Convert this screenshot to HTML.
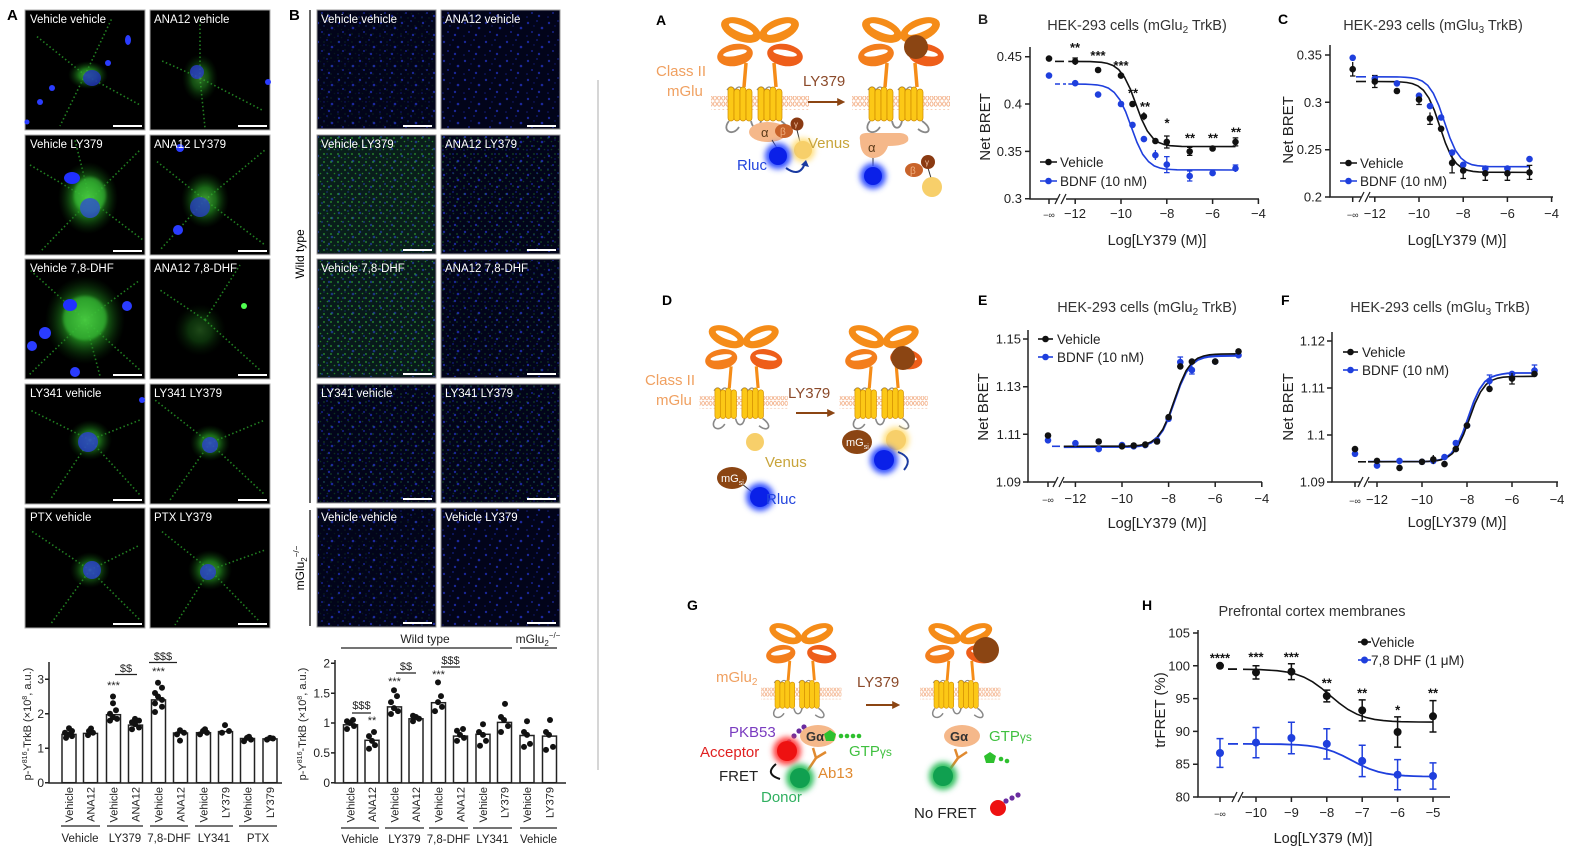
<!DOCTYPE html>
<html><head><meta charset="utf-8"><style>
html,body{margin:0;padding:0;background:#fff;}
svg{display:block;font-family:"Liberation Sans",Arial,sans-serif;}
</style></head><body>
<svg width="1580" height="856" viewBox="0 0 1580 856" xmlns="http://www.w3.org/2000/svg">
<defs>
 <radialGradient id="gc"><stop offset="0" stop-color="#55d045"/><stop offset="0.45" stop-color="#28a024" stop-opacity="0.85"/><stop offset="1" stop-color="#0a400a" stop-opacity="0"/></radialGradient>
 <pattern id="bd" width="21" height="19" patternUnits="userSpaceOnUse">
  <circle cx="3" cy="4" r="1.2" fill="#2232c0"/><circle cx="12" cy="2" r="0.9" fill="#1a28a8"/><circle cx="17" cy="9" r="1.3" fill="#2434c8"/><circle cx="7" cy="13" r="1" fill="#1e2cb0"/><circle cx="14" cy="16" r="1.2" fill="#2232c0"/><circle cx="2" cy="17" r="0.8" fill="#18249a"/><circle cx="9" cy="7" r="0.7" fill="#18249a"/>
 </pattern>
 <pattern id="gd" width="7" height="8" patternUnits="userSpaceOnUse">
  <circle cx="2" cy="2" r="0.9" fill="#38c838"/><circle cx="5.5" cy="5.5" r="0.8" fill="#2aa02a"/>
 </pattern>
 <pattern id="mem" width="4.2" height="14" patternUnits="userSpaceOnUse">
  <ellipse cx="2.1" cy="3" rx="1.5" ry="2.2" fill="none" stroke="#f0a070" stroke-width="0.8"/>
  <ellipse cx="2.1" cy="11" rx="1.5" ry="2.2" fill="none" stroke="#f0a070" stroke-width="0.8"/>
 </pattern>
 <filter id="bl" x="-50%" y="-50%" width="200%" height="200%"><feGaussianBlur stdDeviation="3"/></filter>
 <filter id="bl1" x="-50%" y="-50%" width="200%" height="200%"><feGaussianBlur stdDeviation="1.2"/></filter>
 <marker id="ah" viewBox="0 0 10 10" refX="1" refY="5" markerWidth="4" markerHeight="4" orient="auto"><path d="M0,0 L10,5 L0,10 z" fill="#8b4513"/></marker>
 <g id="rec">
  <rect x="-6" y="79" width="98" height="14" fill="url(#mem)"/>
  <ellipse cx="24" cy="13" rx="21" ry="11" transform="rotate(22 24 13)" fill="#f58c18"/>
  <ellipse cx="62" cy="13" rx="21" ry="11" transform="rotate(-22 62 13)" fill="#f58c18"/>
  <ellipse cx="24" cy="12" rx="13" ry="3.5" transform="rotate(22 24 12)" fill="#fff"/>
  <ellipse cx="62" cy="12" rx="13" ry="3.5" transform="rotate(-22 62 12)" fill="#fff"/>
  <ellipse cx="18" cy="38" rx="18" ry="11" transform="rotate(-10 18 38)" fill="#f37e1c"/>
  <ellipse cx="68" cy="38" rx="18" ry="11" transform="rotate(10 68 38)" fill="#ee5e1a"/>
  <ellipse cx="18" cy="36" rx="12" ry="3" transform="rotate(-10 18 36)" fill="#fff"/>
  <ellipse cx="68" cy="36" rx="12" ry="3" transform="rotate(10 68 36)" fill="#fff"/>
  <path d="M29,46 L27,70 M57,46 L59,70" stroke="#f58c18" stroke-width="3.5" fill="none"/>
  <path d="M10,73 q4,-6 8,0 q4,-6 8,0 M40,73 q4,-6 8,0 q4,-6 8,0" stroke="#888" fill="none" stroke-width="1.3"/>
  <g fill="#fcc816" stroke="#d08a00" stroke-width="0.7">
   <rect x="11" y="70" width="6" height="34" rx="3"/><rect x="17" y="72" width="6" height="32" rx="3"/><rect x="23" y="70" width="6" height="34" rx="3"/><rect x="29" y="72" width="6" height="32" rx="3"/>
   <rect x="41" y="70" width="6" height="34" rx="3"/><rect x="47" y="72" width="6" height="32" rx="3"/><rect x="53" y="70" width="6" height="34" rx="3"/><rect x="59" y="72" width="6" height="32" rx="3"/>
  </g>
  <path d="M12,104 C4,114 16,120 22,110 M34,104 C36,113 42,113 44,104 M64,104 C76,112 70,120 60,112" stroke="#888" stroke-width="1.8" fill="none"/>
 </g>
</defs>

<!-- ============ Panel A micrographs ============ -->
<text x="7" y="20" font-size="15" font-weight="bold">A</text>
<g stroke="#aaa" stroke-width="1" fill="#000">
 <rect x="25" y="10" width="120" height="120"/><rect x="150" y="10" width="120" height="120"/>
 <rect x="25" y="135" width="120" height="120"/><rect x="150" y="135" width="120" height="120"/>
 <rect x="25" y="259" width="120" height="120"/><rect x="150" y="259" width="120" height="120"/>
 <rect x="25" y="384" width="120" height="120"/><rect x="150" y="384" width="120" height="120"/>
 <rect x="25" y="508" width="120" height="120"/><rect x="150" y="508" width="120" height="120"/>
</g>
<g fill="none" stroke="#2aa02a" stroke-dasharray="1.5 2.5" stroke-width="1.6" opacity="0.8">
 <path d="M85,75 L35,35 M85,75 L140,105 M85,75 L60,126 M85,75 L112,18"/>
 <path d="M200,78 L200,20 M200,78 L205,128 M200,78 L160,60 M200,78 L262,110"/>
 <path d="M90,200 L30,165 M90,200 L140,150 M90,200 L40,252 M90,200 L143,240 M90,200 L75,140"/>
 <path d="M205,200 L155,160 M205,200 L265,150 M205,200 L265,245 M205,200 L160,250"/>
 <path d="M85,320 L30,270 M85,320 L140,280 M85,320 L28,376 M85,320 L140,370 M85,320 L100,376"/>
 <path d="M205,320 L160,290 M205,320 L260,370 M205,320 L240,265"/>
 <path d="M90,440 L30,410 M90,440 L140,420 M90,440 L50,500 M90,440 L140,495"/>
 <path d="M210,443 L155,400 M210,443 L265,420 M210,443 L170,500 M210,443 L265,495"/>
 <path d="M90,570 L30,530 M90,570 L140,545 M90,570 L50,625 M90,570 L140,620"/>
 <path d="M210,570 L160,530 M210,570 L265,550 M210,570 L175,625 M210,570 L260,622"/>
</g>
<g>
 <ellipse cx="88" cy="75" rx="20" ry="14" fill="url(#gc)" opacity="0.85"/>
 <ellipse cx="92" cy="78" rx="9" ry="8" fill="#2233bb" opacity="0.8"/>
 <ellipse cx="128" cy="40" rx="3" ry="5" fill="#2a3cff"/><circle cx="108" cy="63" r="3" fill="#2a3cff"/><circle cx="52" cy="88" r="3" fill="#2a3cff"/><circle cx="40" cy="102" r="3" fill="#2a3cff"/><circle cx="27" cy="122" r="2.5" fill="#2a3cff"/>
 <ellipse cx="200" cy="78" rx="18" ry="24" fill="url(#gc)" opacity="0.55"/>
 <circle cx="197" cy="72" r="7" fill="#2a3ccc" opacity="0.8"/><circle cx="268" cy="82" r="3" fill="#2a3cff"/>
 <ellipse cx="88" cy="198" rx="30" ry="36" fill="url(#gc)" opacity="0.95"/>
 <ellipse cx="90" cy="195" rx="16" ry="18" fill="#3ec83e" opacity="0.5" filter="url(#bl1)"/>
 <circle cx="90" cy="208" r="10" fill="#3050d0" opacity="0.8"/><ellipse cx="72" cy="178" rx="8" ry="6" fill="#2030ff"/>
 <ellipse cx="205" cy="200" rx="24" ry="28" fill="url(#gc)" opacity="0.75"/>
 <circle cx="200" cy="207" r="10" fill="#2840c0" opacity="0.8"/><circle cx="178" cy="230" r="5" fill="#2a3cff"/><circle cx="180" cy="148" r="4" fill="#2a3cff"/>
 <ellipse cx="85" cy="320" rx="40" ry="44" fill="url(#gc)" opacity="0.95"/>
 <ellipse cx="85" cy="318" rx="22" ry="22" fill="#3ec83e" opacity="0.5" filter="url(#bl1)"/>
 <ellipse cx="70" cy="305" rx="7" ry="6" fill="#2030ff"/><circle cx="127" cy="306" r="5" fill="#2a3cff"/><circle cx="45" cy="333" r="6" fill="#2a3cff"/><circle cx="32" cy="346" r="5" fill="#2a3cff"/><circle cx="75" cy="372" r="5" fill="#2a3cff"/>
 <ellipse cx="200" cy="330" rx="26" ry="26" fill="url(#gc)" opacity="0.35"/><circle cx="244" cy="306" r="3" fill="#50ff50"/>
 <ellipse cx="90" cy="440" rx="22" ry="20" fill="url(#gc)" opacity="0.75"/>
 <circle cx="88" cy="442" r="10" fill="#2a40d0" opacity="0.8"/><circle cx="142" cy="400" r="3" fill="#2a3cff"/>
 <ellipse cx="210" cy="443" rx="20" ry="18" fill="url(#gc)" opacity="0.75"/><circle cx="210" cy="445" r="8" fill="#2a40d0" opacity="0.8"/>
 <ellipse cx="90" cy="570" rx="20" ry="18" fill="url(#gc)" opacity="0.65"/><circle cx="92" cy="570" r="9" fill="#2a40d0" opacity="0.8"/>
 <ellipse cx="210" cy="570" rx="22" ry="20" fill="url(#gc)" opacity="0.75"/><circle cx="208" cy="572" r="8" fill="#2a40d0" opacity="0.8"/>
</g>
<g stroke="#fff" stroke-width="2">
 <path d="M113,126 H142 M238,126 H267 M113,251 H142 M238,251 H267 M113,375 H142 M238,375 H267 M113,500 H142 M238,500 H267 M113,624 H142 M238,624 H267"/>
</g>
<g fill="#fff" font-size="11.5">
 <text x="30" y="23">Vehicle vehicle</text><text x="154" y="23">ANA12 vehicle</text>
 <text x="30" y="148">Vehicle LY379</text><text x="154" y="148">ANA12 LY379</text>
 <text x="30" y="272">Vehicle 7,8-DHF</text><text x="154" y="272">ANA12 7,8-DHF</text>
 <text x="30" y="397">LY341 vehicle</text><text x="154" y="397">LY341 LY379</text>
 <text x="30" y="521">PTX vehicle</text><text x="154" y="521">PTX LY379</text>
</g>

<!-- ============ Panel B micrographs ============ -->
<text x="289" y="20" font-size="15" font-weight="bold">B</text>
<path d="M310,10 V503 M310,510 V626" stroke="#333" stroke-width="1.5"/>
<text transform="translate(304,254) rotate(-90)" text-anchor="middle" font-size="12">Wild type</text>
<text transform="translate(304,568) rotate(-90)" text-anchor="middle" font-size="12">mGlu<tspan font-size="8" dy="3">2</tspan><tspan font-size="8" dy="-8">−/−</tspan></text>
<g stroke="#999" stroke-width="1" fill="#02041a">
 <rect x="317" y="10" width="119" height="119"/><rect x="441" y="10" width="119" height="119"/>
 <rect x="317" y="135" width="119" height="119"/><rect x="441" y="135" width="119" height="119"/>
 <rect x="317" y="259" width="119" height="119"/><rect x="441" y="259" width="119" height="119"/>
 <rect x="317" y="384" width="119" height="119"/><rect x="441" y="384" width="119" height="119"/>
 <rect x="317" y="508" width="119" height="119"/><rect x="441" y="508" width="119" height="119"/>
</g>
<g fill="url(#bd)" opacity="0.75">
 <rect x="318" y="11" width="117" height="117"/><rect x="442" y="11" width="117" height="117"/>
 <rect x="318" y="136" width="117" height="117"/><rect x="442" y="136" width="117" height="117"/>
 <rect x="318" y="260" width="117" height="117"/><rect x="442" y="260" width="117" height="117"/>
 <rect x="318" y="385" width="117" height="117"/><rect x="442" y="385" width="117" height="117"/>
 <rect x="318" y="509" width="117" height="117"/><rect x="442" y="509" width="117" height="117"/>
</g>
<g fill="url(#gd)">
 <rect x="318" y="136" width="117" height="117" opacity="0.85"/>
 <rect x="442" y="136" width="117" height="117" opacity="0.35"/>
 <rect x="318" y="260" width="117" height="117" opacity="0.85"/>
 <rect x="442" y="260" width="117" height="117" opacity="0.25"/>
 <rect x="318" y="385" width="117" height="117" opacity="0.3"/>
 <rect x="442" y="385" width="117" height="117" opacity="0.3"/>
 <rect x="318" y="11" width="117" height="117" opacity="0.12"/>
 <rect x="318" y="509" width="117" height="117" opacity="0.12"/>
</g>
<rect x="318" y="136" width="117" height="117" fill="#1f6a1f" opacity="0.25"/>
<rect x="318" y="260" width="117" height="117" fill="#1f6a1f" opacity="0.22"/>
<g stroke="#fff" stroke-width="2">
 <path d="M403,126 H432 M527,126 H556 M403,250 H432 M527,250 H556 M403,374 H432 M527,374 H556 M403,499 H432 M527,499 H556 M403,623 H432 M527,623 H556"/>
</g>
<g fill="#fff" font-size="11.5">
 <text x="321" y="23">Vehicle vehicle</text><text x="445" y="23">ANA12 vehicle</text>
 <text x="321" y="148">Vehicle LY379</text><text x="445" y="148">ANA12 LY379</text>
 <text x="321" y="272">Vehicle 7,8-DHF</text><text x="445" y="272">ANA12 7,8-DHF</text>
 <text x="321" y="397">LY341 vehicle</text><text x="445" y="397">LY341 LY379</text>
 <text x="321" y="521">Vehicle vehicle</text><text x="445" y="521">Vehicle LY379</text>
</g>

<!-- ============ Bar chart A ============ -->
<g stroke="#222" stroke-width="1.5" fill="none">
 <path d="M49,662 V783 H282"/>
 <path d="M45,782.7 H49 M45,748.2 H49 M45,713.7 H49 M45,679.2 H49"/>
</g>
<g font-size="12" text-anchor="end" fill="#222">
 <text x="44" y="787">0</text><text x="44" y="752.5">1</text><text x="44" y="718">2</text><text x="44" y="683.5">3</text>
</g>
<text transform="translate(31,724) rotate(-90)" text-anchor="middle" font-size="11" fill="#222">p-Y<tspan font-size="7" dy="-4">816</tspan><tspan dy="4">-TrkB (×10</tspan><tspan font-size="7" dy="-4">8</tspan><tspan dy="4">, a.u.)</tspan></text>
<g fill="#fff" stroke="#222" stroke-width="1.5">
 <rect x="62" y="734.4" width="14" height="48.3"/><rect x="83.5" y="733.4" width="14" height="49.3"/>
 <rect x="106.5" y="714.7" width="14" height="68"/><rect x="128.5" y="725.1" width="14" height="57.6"/>
 <rect x="151.5" y="699.9" width="14" height="82.8"/><rect x="173.5" y="733" width="14" height="49.7"/>
 <rect x="196.5" y="732.7" width="14" height="50"/><rect x="218.5" y="731.6" width="14" height="51.1"/>
 <rect x="240.5" y="738.5" width="14" height="44.2"/><rect x="263" y="738.9" width="14" height="43.8"/>
</g>
<g fill="#111">
 <circle cx="66" cy="737.9" r="3"/><circle cx="72" cy="736.1" r="3"/><circle cx="69" cy="734.4" r="3"/><circle cx="65" cy="732.7" r="3"/><circle cx="72" cy="731" r="3"/><circle cx="69" cy="728.2" r="3"/>
 <circle cx="88" cy="735.1" r="3"/><circle cx="93" cy="732.7" r="3"/><circle cx="89" cy="731" r="3"/><circle cx="91" cy="728.5" r="3"/>
 <circle cx="110" cy="720.6" r="3"/><circle cx="117" cy="718.9" r="3"/><circle cx="113" cy="717.2" r="3"/><circle cx="110" cy="713.7" r="3"/><circle cx="116" cy="710.3" r="3"/><circle cx="113" cy="703.3" r="3"/><circle cx="113" cy="696.5" r="3"/>
 <circle cx="132" cy="729.2" r="3"/><circle cx="139" cy="727.5" r="3"/><circle cx="135" cy="724.1" r="3"/><circle cx="132" cy="722.3" r="3"/><circle cx="139" cy="720.6" r="3"/><circle cx="135" cy="718.9" r="3"/>
 <circle cx="155" cy="712" r="3"/><circle cx="162" cy="706.8" r="3"/><circle cx="155" cy="703.4" r="3"/><circle cx="162" cy="699.9" r="3"/><circle cx="158" cy="696.5" r="3"/><circle cx="155" cy="693" r="3"/><circle cx="162" cy="687.8" r="3"/><circle cx="158" cy="682.7" r="3"/>
 <circle cx="180" cy="740.6" r="3"/><circle cx="177" cy="734.4" r="3"/><circle cx="184" cy="732.7" r="3"/><circle cx="180" cy="730.3" r="3"/>
 <circle cx="200" cy="734.4" r="3"/><circle cx="207" cy="732.7" r="3"/><circle cx="203" cy="731" r="3"/><circle cx="205" cy="729.2" r="3"/>
 <circle cx="222" cy="732.7" r="3"/><circle cx="229" cy="731" r="3"/><circle cx="225" cy="725.1" r="3"/>
 <circle cx="244" cy="741.3" r="3"/><circle cx="251" cy="739.6" r="3"/><circle cx="247" cy="737.9" r="3"/><circle cx="249" cy="736.8" r="3"/>
 <circle cx="267" cy="739.6" r="3"/><circle cx="273" cy="738.5" r="3"/><circle cx="270" cy="737.9" r="3"/>
</g>
<g font-size="11" fill="#222" text-anchor="middle">
 <text x="113.5" y="689">***</text><text x="126" y="672">$$</text>
 <text x="158.5" y="675">***</text><text x="163" y="660">$$$</text>
</g>
<path d="M115,674.5 H137 M149,662.5 H177" stroke="#222" stroke-width="1.2"/>
<g font-size="11" fill="#222" text-anchor="end">
 <text transform="translate(73,787) rotate(-90)">Vehicle</text><text transform="translate(94.5,787) rotate(-90)">ANA12</text>
 <text transform="translate(117.5,787) rotate(-90)">Vehicle</text><text transform="translate(139.5,787) rotate(-90)">ANA12</text>
 <text transform="translate(162.5,787) rotate(-90)">Vehicle</text><text transform="translate(184.5,787) rotate(-90)">ANA12</text>
 <text transform="translate(207.5,787) rotate(-90)">Vehicle</text><text transform="translate(229.5,787) rotate(-90)">LY379</text>
 <text transform="translate(251.5,787) rotate(-90)">Vehicle</text><text transform="translate(274,787) rotate(-90)">LY379</text>
</g>
<path d="M61,826 H100 M107,826 H143 M150,826 H188 M195,826 H233 M239,826 H277" stroke="#222" stroke-width="1.2"/>
<g font-size="11.5" fill="#222" text-anchor="middle">
 <text x="80" y="842">Vehicle</text><text x="125" y="842">LY379</text><text x="169" y="842">7,8-DHF</text><text x="214" y="842">LY341</text><text x="258" y="842">PTX</text>
</g>

<!-- ============ Bar chart B ============ -->
<text x="425" y="643" font-size="12" text-anchor="middle" fill="#222">Wild type</text>
<text x="538" y="643" font-size="12" text-anchor="middle" fill="#222">mGlu<tspan font-size="8" dy="3">2</tspan><tspan font-size="8" dy="-8">−/−</tspan></text>
<path d="M341,648 H512 M520,648 H557" stroke="#222" stroke-width="1.2"/>
<g stroke="#222" stroke-width="1.5" fill="none">
 <path d="M335,660 V783 H566"/>
 <path d="M331,782.7 H335 M331,752.9 H335 M331,723 H335 M331,693.2 H335 M331,663.3 H335"/>
</g>
<g font-size="12" text-anchor="end" fill="#222">
 <text x="330" y="787">0</text><text x="330" y="757">0.5</text><text x="330" y="727">1</text><text x="330" y="697.5">1.5</text><text x="330" y="667.5">2</text>
</g>
<text transform="translate(306,724) rotate(-90)" text-anchor="middle" font-size="11" fill="#222">p-Y<tspan font-size="7" dy="-4">816</tspan><tspan dy="4">-TrkB (×10</tspan><tspan font-size="7" dy="-4">8</tspan><tspan dy="4">, a.u.)</tspan></text>
<g fill="#fff" stroke="#222" stroke-width="1.5">
 <rect x="343.5" y="724.8" width="14" height="57.9"/><rect x="365" y="740.3" width="14" height="42.4"/>
 <rect x="387.5" y="706.9" width="14" height="75.8"/><rect x="409" y="718.8" width="14" height="63.9"/>
 <rect x="431.5" y="702.7" width="14" height="80"/><rect x="453.5" y="736.1" width="14" height="46.6"/>
 <rect x="476" y="734.3" width="14" height="48.4"/><rect x="497.5" y="722.4" width="14" height="60.3"/>
 <rect x="520" y="735.5" width="14" height="47.2"/><rect x="542.5" y="736.1" width="14" height="46.6"/>
</g>
<g fill="#111">
 <circle cx="347" cy="729" r="3"/><circle cx="354" cy="726" r="3"/><circle cx="350" cy="723" r="3"/><circle cx="347" cy="721.2" r="3"/><circle cx="353" cy="720" r="3"/>
 <circle cx="369" cy="748.7" r="3"/><circle cx="375" cy="745.1" r="3"/><circle cx="372" cy="740.9" r="3"/><circle cx="369" cy="736.1" r="3"/><circle cx="374" cy="732" r="3"/>
 <circle cx="391" cy="714" r="3"/><circle cx="398" cy="711.1" r="3"/><circle cx="394" cy="708.1" r="3"/><circle cx="391" cy="702.1" r="3"/><circle cx="397" cy="696.1" r="3"/><circle cx="394" cy="690.2" r="3"/>
 <circle cx="413" cy="721.2" r="3"/><circle cx="419" cy="718.8" r="3"/><circle cx="416" cy="717" r="3"/><circle cx="413" cy="715.8" r="3"/>
 <circle cx="435" cy="711.1" r="3"/><circle cx="442" cy="706.9" r="3"/><circle cx="438" cy="702.1" r="3"/><circle cx="441" cy="696.1" r="3"/><circle cx="438" cy="682.4" r="3"/>
 <circle cx="457" cy="740.9" r="3"/><circle cx="464" cy="737.9" r="3"/><circle cx="460" cy="734.9" r="3"/><circle cx="457" cy="730.8" r="3"/><circle cx="463" cy="729" r="3"/>
 <circle cx="480" cy="745.7" r="3"/><circle cx="486" cy="740.9" r="3"/><circle cx="483" cy="734.9" r="3"/><circle cx="479" cy="732" r="3"/><circle cx="483" cy="724.2" r="3"/>
 <circle cx="501" cy="732" r="3"/><circle cx="508" cy="726" r="3"/><circle cx="504" cy="720" r="3"/><circle cx="501" cy="717" r="3"/><circle cx="505" cy="703.9" r="3"/>
 <circle cx="524" cy="746.9" r="3"/><circle cx="530" cy="743.9" r="3"/><circle cx="527" cy="734.9" r="3"/><circle cx="524" cy="732" r="3"/><circle cx="527" cy="721.2" r="3"/>
 <circle cx="546" cy="749.9" r="3"/><circle cx="553" cy="746.9" r="3"/><circle cx="549" cy="734.9" r="3"/><circle cx="546" cy="732" r="3"/><circle cx="550" cy="720" r="3"/>
</g>
<g font-size="11" fill="#222" text-anchor="middle">
 <text x="361.5" y="709">$$$</text><text x="372" y="724">**</text>
 <text x="394.5" y="685">***</text><text x="406" y="670">$$</text>
 <text x="438.5" y="678">***</text><text x="450.5" y="664">$$$</text>
</g>
<path d="M352,713 H371 M396,673 H416 M441,667 H460" stroke="#222" stroke-width="1.2"/>
<g font-size="11" fill="#222" text-anchor="end">
 <text transform="translate(354.5,787) rotate(-90)">Vehicle</text><text transform="translate(376,787) rotate(-90)">ANA12</text>
 <text transform="translate(398.5,787) rotate(-90)">Vehicle</text><text transform="translate(420,787) rotate(-90)">ANA12</text>
 <text transform="translate(442.5,787) rotate(-90)">Vehicle</text><text transform="translate(464.5,787) rotate(-90)">ANA12</text>
 <text transform="translate(487,787) rotate(-90)">Vehicle</text><text transform="translate(508.5,787) rotate(-90)">LY379</text>
 <text transform="translate(531,787) rotate(-90)">Vehicle</text><text transform="translate(553.5,787) rotate(-90)">LY379</text>
</g>
<path d="M341,828 H379 M385,828 H424 M429,828 H468 M473,828 H512 M520,828 H557" stroke="#222" stroke-width="1.2"/>
<g font-size="11.5" fill="#222" text-anchor="middle">
 <text x="360" y="843">Vehicle</text><text x="404.5" y="843">LY379</text><text x="448.5" y="843">7,8-DHF</text><text x="492.5" y="843">LY341</text><text x="538.5" y="843">Vehicle</text>
</g>

<!-- divider -->
<path d="M598,80 V770" stroke="#bbb" stroke-width="1.2"/>

<!-- ============ Diagram A ============ -->
<text x="656" y="25" font-size="14" font-weight="bold">A</text>
<use href="#rec" transform="translate(717,17)"/>
<use href="#rec" transform="translate(858,17)"/>
<circle cx="916" cy="47" r="12" fill="#8b4513"/>
<text x="656" y="76" font-size="15" fill="#f0a060">Class II</text>
<text x="667" y="96" font-size="15" fill="#f0a060">mGlu</text>
<text x="803" y="86" font-size="15" fill="#8b4a2a">LY379</text>
<path d="M808,102 H838" stroke="#8b4513" stroke-width="2" marker-end="url(#ah)"/>
<ellipse cx="768" cy="132" rx="19" ry="10" fill="#f5b88a"/>
<text x="761" y="137" font-size="13" fill="#5a3a1a">α</text>
<ellipse cx="784" cy="131" rx="9" ry="7" fill="#c8632a"/>
<text x="780" y="135" font-size="10" fill="#f0b080">β</text>
<circle cx="797" cy="124" r="6.5" fill="#8a3a12"/>
<text x="794" y="127" font-size="8" fill="#f0c0a0">γ</text>
<path d="M797,130 L800,142 M772,140 L777,148" stroke="#333" stroke-width="1"/>
<circle cx="803" cy="150" r="12" fill="#ffe080" filter="url(#bl)"/>
<circle cx="803" cy="150" r="9" fill="#f7cf6a"/>
<circle cx="778" cy="156" r="13" fill="#3050ff" filter="url(#bl)"/>
<circle cx="778" cy="156" r="9" fill="#0a20e8"/>
<text x="808" y="148" font-size="15" fill="#c8a43a">Venus</text>
<text x="737" y="170" font-size="15" fill="#2244dd">Rluc</text>
<path d="M786,168 Q800,178 805,163" stroke="#1a3aa0" stroke-width="2" fill="none"/>
<path d="M801,165 L806,160 L809,167 Z" fill="#1a3aa0"/>
<path d="M860,140 Q858,132 870,133 L900,133 Q910,134 908,141 Q904,146 888,146 Q884,158 872,158 Q860,156 860,140Z" fill="#f5b88a"/>
<text x="868" y="152" font-size="13" fill="#5a3a1a">α</text>
<path d="M873,158 L873,166 M928,168 L931,178" stroke="#333" stroke-width="1"/>
<circle cx="873" cy="176" r="13" fill="#3050ff" filter="url(#bl)"/>
<circle cx="873" cy="176" r="9" fill="#0a20e8"/>
<ellipse cx="914" cy="170" rx="9" ry="7" fill="#c8632a"/>
<text x="910" y="174" font-size="10" fill="#f0b080">β</text>
<circle cx="928" cy="162" r="7" fill="#8a3a12"/>
<text x="925" y="165" font-size="8" fill="#f0c0a0">γ</text>
<circle cx="932" cy="187" r="10" fill="#f7cf6a"/>

<!-- ============ Chart B (HEK mGlu2) ============ -->
<g fill="#222">
<text x="978" y="24" font-size="14" font-weight="bold">B</text>
<text x="1137" y="30" text-anchor="middle" font-size="14.5" fill="#333">HEK-293 cells (mGlu<tspan font-size="10" dy="3">2</tspan><tspan dy="-3"> TrkB)</tspan></text>
</g>
<g stroke="#222" stroke-width="1.5" fill="none">
 <path d="M1030,47 V199 H1259"/>
 <path d="M1025,56.7 H1030 M1025,104 H1030 M1025,151.4 H1030 M1025,198.7 H1030"/>
 <path d="M1049,199 V204 M1075.2,199 V204 M1121,199 V204 M1166.8,199 V204 M1212.6,199 V204 M1258.4,199 V204"/>
</g>
<rect x="1058" y="196" width="8" height="6" fill="#fff"/>
<path d="M1055,204 L1060,194 M1061,204 L1066,194" stroke="#222" stroke-width="1.3"/>
<g font-size="13" fill="#222" text-anchor="end">
 <text x="1022" y="61">0.45</text><text x="1022" y="108.5">0.4</text><text x="1022" y="156">0.35</text><text x="1022" y="203">0.3</text>
</g>
<g font-size="13" fill="#222" text-anchor="middle">
 <text x="1049" y="218" font-size="9">−∞</text><text x="1075" y="218">−12</text><text x="1121" y="218">−10</text><text x="1167" y="218">−8</text><text x="1212.6" y="218">−6</text><text x="1258.4" y="218">−4</text>
 <text x="1157" y="245" font-size="14.5">Log[LY379 (M)]</text>
</g>
<text transform="translate(990,127) rotate(-90)" text-anchor="middle" font-size="15" fill="#222">Net BRET</text>
<path d="M1055,61.4 H1064" stroke="#111" stroke-width="1.6"/>
<path d="M1055,84 H1066" stroke="#1f3fdd" stroke-width="1.6" stroke-dasharray="5 3"/>
<path d="M1068.3,84 L1085.5,84.2 L1091.2,84.5 L1096.9,84.9 L1102.7,86 L1108.4,88.1 L1114.1,92.3 L1119.8,99.7 L1125.6,111.6 L1131.3,127 L1137,142.4 L1142.7,154.3 L1148.6,161.7 L1154.2,165.9 L1159.9,168 L1165.6,169.1 L1171.4,169.5 L1177.1,169.8 L1235.5,170" stroke="#1f3fdd" stroke-width="1.6" fill="none"/>
<path d="M1068.3,61.4 L1090.1,61.6 L1095.8,61.9 L1101.5,62.3 L1107.3,63.4 L1113,65.5 L1118.7,69.6 L1124.4,77 L1130.2,88.8 L1135.9,104 L1141.6,119.3 L1147.3,131 L1153.2,138.4 L1158.8,142.5 L1164.5,144.6 L1170.2,145.7 L1176,146.1 L1181.7,146.4 L1235.5,146.6" stroke="#111" stroke-width="1.6" fill="none"/>
<g stroke="#1f3fdd" stroke-width="1.3">
 <path d="M1166.8,156.6 V172.6 M1164,156.6 H1169.6 M1164,172.6 H1169.6 M1189.7,171 V181 M1187,171 H1192.4 M1187,181 H1192.4 M1155.4,150 V160 M1235.5,165 V172 M1232.7,165 H1238.3 M1212.6,170 V176"/>
</g>
<g fill="#1f3fdd">
 <circle cx="1049" cy="75.6" r="3.3"/><circle cx="1075.2" cy="83.2" r="3.3"/><circle cx="1098.1" cy="94.6" r="3.3"/><circle cx="1121" cy="104" r="3.3"/><circle cx="1132.5" cy="124.9" r="3.3"/><circle cx="1143.9" cy="139.1" r="3.3"/><circle cx="1155.4" cy="155.2" r="3.3"/><circle cx="1166.8" cy="164.6" r="3.3"/><circle cx="1189.7" cy="176" r="3.3"/><circle cx="1212.6" cy="173.1" r="3.3"/><circle cx="1235.5" cy="168.4" r="3.3"/>
</g>
<g stroke="#111" stroke-width="1.3">
 <path d="M1075.2,58 V65 M1072.4,58 H1078 M1121,72.6 V78.6 M1166.8,136 V148 M1164,136 H1169.6 M1164,148 H1169.6 M1189.7,147.4 V155.4 M1187,147.4 H1192.4 M1187,155.4 H1192.4 M1235.5,137.9 V145.9 M1232.7,137.9 H1238.3 M1232.7,145.9 H1238.3 M1143.9,112.3 V120.3"/>
</g>
<g fill="#111">
 <circle cx="1049" cy="58.6" r="3.3"/><circle cx="1075.2" cy="61.4" r="3.3"/><circle cx="1098.1" cy="70" r="3.3"/><circle cx="1121" cy="75.6" r="3.3"/><circle cx="1132.5" cy="104" r="3.3"/><circle cx="1143.9" cy="116.3" r="3.3"/><circle cx="1155.4" cy="141" r="3.3"/><circle cx="1166.8" cy="141.9" r="3.3"/><circle cx="1189.7" cy="151.4" r="3.3"/><circle cx="1212.6" cy="148.5" r="3.3"/><circle cx="1235.5" cy="141.9" r="3.3"/>
</g>
<g font-size="13" font-weight="bold" fill="#111" text-anchor="middle">
 <text x="1075" y="52">**</text><text x="1098" y="60">***</text><text x="1121" y="70">***</text><text x="1133" y="97.5">**</text><text x="1145" y="111">**</text><text x="1167" y="127.5">*</text><text x="1190" y="142.5">**</text><text x="1213" y="142.5">**</text><text x="1236" y="136.5">**</text>
</g>
<path d="M1040,162 H1057" stroke="#111" stroke-width="1.6"/>
<path d="M1040,181 H1057" stroke="#1f3fdd" stroke-width="1.6"/>
<circle cx="1048.5" cy="162" r="3.3" fill="#111"/><circle cx="1048.5" cy="181" r="3.3" fill="#1f3fdd"/>
<text x="1060" y="167" font-size="13.5" fill="#222">Vehicle</text>
<text x="1060" y="186" font-size="13.5" fill="#222">BDNF (10 nM)</text>

<!-- ============ Chart C (HEK mGlu3) ============ -->
<text x="1278" y="24" font-size="14" font-weight="bold">C</text>
<text x="1433" y="30" text-anchor="middle" font-size="14.5" fill="#333">HEK-293 cells (mGlu<tspan font-size="10" dy="3">3</tspan><tspan dy="-3"> TrkB)</tspan></text>
<g stroke="#222" stroke-width="1.5" fill="none">
 <path d="M1330,45 V197 H1553"/>
 <path d="M1325,55 H1330 M1325,102.3 H1330 M1325,149.7 H1330 M1325,197 H1330"/>
 <path d="M1352.7,197 V202 M1374.8,197 V202 M1419,197 V202 M1463.2,197 V202 M1507.4,197 V202 M1551.6,197 V202"/>
</g>
<rect x="1361" y="194" width="8" height="6" fill="#fff"/>
<path d="M1359,202 L1364,192 M1365,202 L1370,192" stroke="#222" stroke-width="1.3"/>
<g font-size="13" fill="#222" text-anchor="end">
 <text x="1322" y="59.5">0.35</text><text x="1322" y="106.8">0.3</text><text x="1322" y="154.2">0.25</text><text x="1322" y="201.5">0.2</text>
</g>
<g font-size="13" fill="#222" text-anchor="middle">
 <text x="1352.7" y="218" font-size="9">−∞</text><text x="1374.8" y="218">−12</text><text x="1419" y="218">−10</text><text x="1463.2" y="218">−8</text><text x="1507.4" y="218">−6</text><text x="1551.6" y="218">−4</text>
 <text x="1457" y="245" font-size="14.5">Log[LY379 (M)]</text>
</g>
<text transform="translate(1293,130) rotate(-90)" text-anchor="middle" font-size="15" fill="#222">Net BRET</text>
<path d="M1356,81.5 H1366" stroke="#111" stroke-width="1.6"/>
<path d="M1356,76.8 H1366" stroke="#1f3fdd" stroke-width="1.6"/>
<path d="M1372.6,76.8 L1400.2,77 L1405.7,77.3 L1411.2,77.8 L1416.8,78.9 L1422.3,81.1 L1427.8,85.4 L1433.3,93.3 L1438.9,105.7 L1444.4,121.8 L1449.9,137.8 L1455.4,150.3 L1461,158.1 L1466.5,162.4 L1472,164.7 L1477.5,165.7 L1483.1,166.2 L1488.6,166.6 L1529.5,166.7" stroke="#1f3fdd" stroke-width="1.6" fill="none"/>
<path d="M1372.6,81.5 L1395.8,81.7 L1401.3,82 L1406.8,82.5 L1412.4,83.6 L1417.9,85.9 L1423.4,90.2 L1428.9,98.1 L1434.5,110.7 L1440,127 L1445.5,143.2 L1451,155.8 L1456.6,163.7 L1462.1,168 L1467.6,170.3 L1473.1,171.4 L1478.7,171.9 L1484.2,172.2 L1529.5,172.4" stroke="#111" stroke-width="1.6" fill="none"/>
<g stroke="#111" stroke-width="1.3">
 <path d="M1352.7,62 V76 M1350,76 H1355.4 M1374.8,75.5 V87.5 M1372,75.5 H1377.6 M1372,87.5 H1377.6 M1419,94.5 V104.5 M1416.2,104.5 H1421.8 M1430,112.4 V124.4 M1427.2,124.4 H1432.8 M1452.1,152.9 V172.9 M1449.3,172.9 H1454.9 M1463.2,162.5 V178.5 M1460.4,178.5 H1466 M1485.3,166.3 V180.3 M1482.5,180.3 H1488.1 M1507.4,166.3 V180.3 M1504.6,180.3 H1510.2 M1529.5,165.4 V179.4 M1526.7,165.4 H1532.3 M1526.7,179.4 H1532.3"/>
</g>
<g fill="#1f3fdd">
 <circle cx="1352.7" cy="57.8" r="3.3"/><circle cx="1374.8" cy="78.7" r="3.3"/><circle cx="1396.9" cy="83.4" r="3.3"/><circle cx="1419" cy="95.7" r="3.3"/><circle cx="1430" cy="106.1" r="3.3"/><circle cx="1441.1" cy="117.5" r="3.3"/><circle cx="1452.1" cy="152.5" r="3.3"/><circle cx="1463.2" cy="164.8" r="3.3"/><circle cx="1485.3" cy="168.6" r="3.3"/><circle cx="1507.4" cy="168.6" r="3.3"/><circle cx="1529.5" cy="159.1" r="3.3"/>
</g>
<g fill="#111">
 <circle cx="1352.7" cy="69.2" r="3.3"/><circle cx="1374.8" cy="81.5" r="3.3"/><circle cx="1396.9" cy="91" r="3.3"/><circle cx="1419" cy="99.5" r="3.3"/><circle cx="1430" cy="118.4" r="3.3"/><circle cx="1441.1" cy="128.8" r="3.3"/><circle cx="1452.1" cy="162.9" r="3.3"/><circle cx="1463.2" cy="170.5" r="3.3"/><circle cx="1485.3" cy="173.3" r="3.3"/><circle cx="1507.4" cy="173.3" r="3.3"/><circle cx="1529.5" cy="172.4" r="3.3"/>
</g>
<path d="M1340,163 H1357" stroke="#111" stroke-width="1.6"/>
<path d="M1340,181 H1357" stroke="#1f3fdd" stroke-width="1.6"/>
<circle cx="1348.5" cy="163" r="3.3" fill="#111"/><circle cx="1348.5" cy="181" r="3.3" fill="#1f3fdd"/>
<text x="1360" y="168" font-size="13.5" fill="#222">Vehicle</text>
<text x="1360" y="186" font-size="13.5" fill="#222">BDNF (10 nM)</text>

<!-- ============ Diagram D ============ -->
<text x="662" y="305" font-size="14" font-weight="bold">D</text>
<circle cx="755" cy="442" r="9" fill="#f7cf6a"/>
<use href="#rec" transform="translate(705,325) scale(0.9)"/>
<use href="#rec" transform="translate(845,325) scale(0.9)"/>
<circle cx="903" cy="358" r="12" fill="#8b4513"/>
<text x="645" y="385" font-size="15" fill="#f0a060">Class II</text>
<text x="656" y="405" font-size="15" fill="#f0a060">mGlu</text>
<text x="788" y="398" font-size="15" fill="#8b4a2a">LY379</text>
<path d="M796,413 H828" stroke="#8b4513" stroke-width="2" marker-end="url(#ah)"/>
<text x="765" y="467" font-size="15" fill="#c8a43a">Venus</text>
<path d="M742,484 L752,492" stroke="#333" stroke-width="1"/>
<ellipse cx="732" cy="478" rx="15" ry="11" fill="#8b4513"/>
<text x="721" y="482" font-size="11" fill="#fff">mG<tspan font-size="7" dy="3">si</tspan></text>
<circle cx="760" cy="497" r="14" fill="#3050ff" filter="url(#bl)"/>
<circle cx="760" cy="497" r="10" fill="#0a20e8"/>
<text x="766" y="504" font-size="15" fill="#2244dd">Rluc</text>
<circle cx="896" cy="440" r="13" fill="#ffe080" filter="url(#bl)"/>
<circle cx="896" cy="440" r="10" fill="#f7cf6a"/>
<ellipse cx="857" cy="442" rx="15" ry="12" fill="#8b4513"/>
<text x="846" y="446" font-size="11" fill="#fff">mG<tspan font-size="7" dy="3">si</tspan></text>
<circle cx="884" cy="460" r="14" fill="#3050ff" filter="url(#bl)"/>
<circle cx="884" cy="460" r="10" fill="#0a20e8"/>
<path d="M898,452 Q914,458 904,470" stroke="#1a3aa0" stroke-width="2" fill="none"/>

<!-- ============ Chart E ============ -->
<text x="978" y="305" font-size="14" font-weight="bold">E</text>
<text x="1147" y="312" text-anchor="middle" font-size="14.5" fill="#333">HEK-293 cells (mGlu<tspan font-size="10" dy="3">2</tspan><tspan dy="-3"> TrkB)</tspan></text>
<g stroke="#222" stroke-width="1.5" fill="none">
 <path d="M1028,330 V482 H1262"/>
 <path d="M1023,339 H1028 M1023,386.7 H1028 M1023,434.3 H1028 M1023,482 H1028"/>
 <path d="M1048,482 V487 M1075.4,482 V487 M1122,482 V487 M1168.6,482 V487 M1215.2,482 V487 M1261.8,482 V487"/>
</g>
<rect x="1055" y="479" width="8" height="6" fill="#fff"/>
<path d="M1053,487 L1058,477 M1059,487 L1064,477" stroke="#222" stroke-width="1.3"/>
<g font-size="13" fill="#222" text-anchor="end">
 <text x="1021" y="343.5">1.15</text><text x="1021" y="391">1.13</text><text x="1021" y="438.8">1.11</text><text x="1021" y="486.5">1.09</text>
</g>
<g font-size="13" fill="#222" text-anchor="middle">
 <text x="1048" y="503" font-size="9">−∞</text><text x="1075.4" y="503">−12</text><text x="1122" y="503">−10</text><text x="1168.6" y="503">−8</text><text x="1215.2" y="503">−6</text><text x="1261.8" y="503">−4</text>
 <text x="1157" y="528" font-size="14.5">Log[LY379 (M)]</text>
</g>
<text transform="translate(988,407) rotate(-90)" text-anchor="middle" font-size="15" fill="#222">Net BRET</text>
<path d="M1052,446.3 H1060" stroke="#1f3fdd" stroke-width="1.6"/>
<path d="M1063.8,447 L1127.8,446.8 L1133.7,446.5 L1139.5,446 L1145.3,444.9 L1151.1,442.6 L1157,438.2 L1162.8,430.3 L1168.6,417.6 L1174.4,401.2 L1180.3,384.8 L1186.1,372.2 L1191.9,364.3 L1197.7,359.9 L1203.6,357.7 L1209.4,356.6 L1215.2,356.1 L1221,355.9 L1238.5,355.6" stroke="#1f3fdd" stroke-width="2.2" fill="none"/>
<path d="M1063.8,446.3 L1127.8,446.1 L1133.7,445.8 L1139.5,445.3 L1145.3,444.2 L1151.1,441.9 L1157,437.4 L1162.8,429.4 L1168.6,416.6 L1174.4,400.1 L1180.3,383.5 L1186.1,370.7 L1191.9,362.7 L1197.7,358.2 L1203.6,356 L1209.4,354.8 L1215.2,354.3 L1221,354.1 L1238.5,353.8" stroke="#111" stroke-width="1.6" fill="none"/>
<g stroke="#1f3fdd" stroke-width="1.3"><path d="M1180.3,357 V367 M1177.5,357 H1183.1 M1191.9,366 V374 M1189.1,374 H1194.7"/></g>
<g fill="#1f3fdd">
 <circle cx="1048" cy="440.3" r="3.3"/><circle cx="1075.4" cy="443.2" r="3.3"/><circle cx="1098.7" cy="449.1" r="3.3"/><circle cx="1122" cy="445.1" r="3.3"/><circle cx="1133.7" cy="446.3" r="3.3"/><circle cx="1145.3" cy="445.1" r="3.3"/><circle cx="1157" cy="440.3" r="3.3"/><circle cx="1168.6" cy="418.8" r="3.3"/><circle cx="1180.3" cy="362.1" r="3.3"/><circle cx="1191.9" cy="370" r="3.3"/><circle cx="1215.2" cy="361.6" r="3.3"/><circle cx="1238.5" cy="355.2" r="3.3"/>
</g>
<g fill="#111">
 <circle cx="1048" cy="435.5" r="3.3"/><circle cx="1098.7" cy="441.5" r="3.3"/><circle cx="1122" cy="446.3" r="3.3"/><circle cx="1133.7" cy="445.5" r="3.3"/><circle cx="1145.3" cy="444.6" r="3.3"/><circle cx="1157" cy="441.5" r="3.3"/><circle cx="1168.6" cy="417.2" r="3.3"/><circle cx="1180.3" cy="366.4" r="3.3"/><circle cx="1191.9" cy="361.6" r="3.3"/><circle cx="1215.2" cy="361.6" r="3.3"/><circle cx="1238.5" cy="351.4" r="3.3"/>
</g>
<path d="M1038,339 H1053" stroke="#111" stroke-width="1.6"/>
<path d="M1038,357 H1053" stroke="#1f3fdd" stroke-width="1.6"/>
<circle cx="1045.5" cy="339" r="3.3" fill="#111"/><circle cx="1045.5" cy="357" r="3.3" fill="#1f3fdd"/>
<text x="1057" y="344" font-size="13.5" fill="#222">Vehicle</text>
<text x="1057" y="362" font-size="13.5" fill="#222">BDNF (10 nM)</text>

<!-- ============ Chart F ============ -->
<text x="1281" y="305" font-size="14" font-weight="bold">F</text>
<text x="1440" y="312" text-anchor="middle" font-size="14.5" fill="#333">HEK-293 cells (mGlu<tspan font-size="10" dy="3">3</tspan><tspan dy="-3"> TrkB)</tspan></text>
<g stroke="#222" stroke-width="1.5" fill="none">
 <path d="M1332,332 V482 H1558"/>
 <path d="M1327,341 H1332 M1327,388 H1332 M1327,435 H1332 M1327,482 H1332"/>
 <path d="M1355,482 V487 M1377,482 V487 M1422,482 V487 M1467,482 V487 M1512,482 V487 M1557,482 V487"/>
</g>
<rect x="1360" y="479" width="8" height="6" fill="#fff"/>
<path d="M1358,487 L1363,477 M1364,487 L1369,477" stroke="#222" stroke-width="1.3"/>
<g font-size="13" fill="#222" text-anchor="end">
 <text x="1325" y="345.5">1.12</text><text x="1325" y="392.5">1.11</text><text x="1325" y="439.5">1.1</text><text x="1325" y="486.5">1.09</text>
</g>
<g font-size="13" fill="#222" text-anchor="middle">
 <text x="1355" y="504" font-size="9">−∞</text><text x="1377" y="504">−12</text><text x="1422" y="504">−10</text><text x="1467" y="504">−8</text><text x="1512" y="504">−6</text><text x="1557" y="504">−4</text>
 <text x="1457" y="527" font-size="14.5">Log[LY379 (M)]</text>
</g>
<text transform="translate(1293,407) rotate(-90)" text-anchor="middle" font-size="15" fill="#222">Net BRET</text>
<path d="M1358,461.8 H1366" stroke="#111" stroke-width="1.6"/>
<path d="M1368,461.6 L1423.2,461.6 L1428.8,461.3 L1434.4,460.8 L1440,459.8 L1445.7,457.5 L1451.3,453.3 L1456.9,445.5 L1462.5,433.3 L1468.2,417.4 L1473.8,401.5 L1479.4,389.3 L1485,381.5 L1490.7,377.3 L1496.3,375.4 L1501.9,374.1 L1507.5,373.3 L1513.2,373 L1534.5,373" stroke="#1f3fdd" stroke-width="1.8" fill="none"/>
<path d="M1368,461.8 L1424.3,461.6 L1429.9,461.3 L1435.5,460.9 L1441.1,459.8 L1446.8,457.7 L1452.4,453.6 L1458,446.2 L1463.6,434.4 L1469.3,419.1 L1474.9,403.7 L1480.5,392 L1486.1,384.5 L1491.8,380.4 L1497.4,378.3 L1503,377.2 L1508.6,376.8 L1514.3,376.5 L1534.5,376.3" stroke="#111" stroke-width="1.6" fill="none"/>
<g stroke="#1f3fdd" stroke-width="1.3"><path d="M1489.5,375 V387 M1486.7,375 H1492.3 M1534.5,365 V376 M1531.7,365 H1537.3"/></g>
<g fill="#1f3fdd">
 <circle cx="1355" cy="453.8" r="3.3"/><circle cx="1377" cy="465.6" r="3.3"/><circle cx="1399.5" cy="460.9" r="3.3"/><circle cx="1422" cy="461.8" r="3.3"/><circle cx="1433.3" cy="460.9" r="3.3"/><circle cx="1444.5" cy="457.1" r="3.3"/><circle cx="1455.8" cy="443" r="3.3"/><circle cx="1467" cy="425.6" r="3.3"/><circle cx="1489.5" cy="380.9" r="3.3"/><circle cx="1512" cy="373.9" r="3.3"/><circle cx="1534.5" cy="370.6" r="3.3"/>
</g>
<g stroke="#111" stroke-width="1.3"><path d="M1433.3,455 V464 M1512,373 V384 M1509.2,384 H1514.8"/></g>
<g fill="#111">
 <circle cx="1355" cy="449.1" r="3.3"/><circle cx="1377" cy="460.9" r="3.3"/><circle cx="1399.5" cy="467.9" r="3.3"/><circle cx="1422" cy="461.8" r="3.3"/><circle cx="1433.3" cy="459.4" r="3.3"/><circle cx="1444.5" cy="464.1" r="3.3"/><circle cx="1455.8" cy="449.1" r="3.3"/><circle cx="1467" cy="425.6" r="3.3"/><circle cx="1489.5" cy="388.9" r="3.3"/><circle cx="1512" cy="378.6" r="3.3"/><circle cx="1534.5" cy="373.9" r="3.3"/>
</g>
<path d="M1343,352 H1358" stroke="#111" stroke-width="1.6"/>
<path d="M1343,370 H1358" stroke="#1f3fdd" stroke-width="1.6"/>
<circle cx="1350.5" cy="352" r="3.3" fill="#111"/><circle cx="1350.5" cy="370" r="3.3" fill="#1f3fdd"/>
<text x="1362" y="357" font-size="13.5" fill="#222">Vehicle</text>
<text x="1362" y="375" font-size="13.5" fill="#222">BDNF (10 nM)</text>

<!-- ============ Diagram G ============ -->
<text x="687" y="610" font-size="14" font-weight="bold">G</text>
<use href="#rec" transform="translate(766,623) scale(0.82)"/>
<use href="#rec" transform="translate(925,623) scale(0.82)"/>
<circle cx="986" cy="650" r="13" fill="#8b4513"/>
<text x="716" y="682" font-size="15" fill="#f0a060">mGlu<tspan font-size="10" dy="3">2</tspan></text>
<text x="857" y="687" font-size="15" fill="#8b4a2a">LY379</text>
<path d="M866,705 H893" stroke="#8b4513" stroke-width="2" marker-end="url(#ah)"/>
<text x="729" y="737" font-size="15" fill="#7a3cc0">PKB53</text>
<g fill="#6a2ca0"><circle cx="789" cy="742" r="2.6"/><circle cx="794" cy="736" r="2.6"/><circle cx="799" cy="731" r="2.6"/><circle cx="804" cy="727" r="2.6"/></g>
<circle cx="787" cy="751" r="14" fill="#ff4040" filter="url(#bl)"/>
<circle cx="787" cy="751" r="10" fill="#ee1111"/>
<text x="700" y="757" font-size="15" fill="#e02020">Acceptor</text>
<text x="719" y="781" font-size="15" fill="#222">FRET</text>
<path d="M776,764 Q764,774 780,779" stroke="#111" stroke-width="2" fill="none"/>
<ellipse cx="818" cy="736" rx="18" ry="11" fill="#f5b88a"/>
<text x="806" y="741" font-size="13" font-weight="bold" fill="#333">Gα</text>
<path d="M830,730 L836,734 L834,741 L826,741 L824,734 Z" fill="#2ec02e"/>
<g fill="#2ec02e"><circle cx="841" cy="736" r="2.3"/><circle cx="847" cy="736" r="2.3"/><circle cx="853" cy="736" r="2.3"/><circle cx="859" cy="736" r="2.3"/></g>
<text x="849" y="756" font-size="15" fill="#40c040">GTP<tspan font-size="12">γs</tspan></text>
<path d="M806,773 L816,758 M816,758 L813,748 M816,758 L826,752" stroke="#e08a30" stroke-width="2.5" fill="none"/>
<circle cx="800" cy="778" r="14" fill="#30c060" filter="url(#bl)"/>
<circle cx="800" cy="778" r="10" fill="#10a050"/>
<text x="818" y="778" font-size="15" fill="#e08a30">Ab13</text>
<text x="761" y="802" font-size="15" fill="#30b060">Donor</text>
<ellipse cx="962" cy="736" rx="18" ry="11" fill="#f5b88a"/>
<text x="950" y="741" font-size="13" font-weight="bold" fill="#333">Gα</text>
<text x="989" y="741" font-size="15" fill="#40c040">GTP<tspan font-size="12">γs</tspan></text>
<path d="M990,752 L996,756 L994,763 L986,763 L984,756 Z" fill="#2ec02e"/>
<g fill="#2ec02e"><circle cx="1001" cy="759" r="2.3"/><circle cx="1007" cy="761" r="2.3"/></g>
<path d="M948,772 L958,758 M958,758 L955,749 M958,758 L967,752" stroke="#e08a30" stroke-width="2.5" fill="none"/>
<circle cx="943" cy="776" r="14" fill="#30c060" filter="url(#bl)"/>
<circle cx="943" cy="776" r="10" fill="#10a050"/>
<g fill="#6a2ca0"><circle cx="1006" cy="801" r="2.6"/><circle cx="1012" cy="798" r="2.6"/><circle cx="1018" cy="795" r="2.6"/></g>
<circle cx="998" cy="808" r="8" fill="#ee1111"/>
<text x="914" y="818" font-size="15" fill="#222">No FRET</text>

<!-- ============ Chart H ============ -->
<text x="1142" y="610" font-size="14" font-weight="bold">H</text>
<text x="1312" y="616" text-anchor="middle" font-size="14.5" fill="#333">Prefrontal cortex membranes</text>
<g stroke="#222" stroke-width="1.5" fill="none">
 <path d="M1198,630 V797 H1450"/>
 <path d="M1193,633 H1198 M1193,665.8 H1198 M1193,698.6 H1198 M1193,731.4 H1198 M1193,764.2 H1198 M1193,797 H1198"/>
 <path d="M1220,797 V802 M1256,797 V802 M1291.4,797 V802 M1326.8,797 V802 M1362.2,797 V802 M1397.6,797 V802 M1433,797 V802"/>
</g>
<rect x="1234" y="794" width="8" height="6" fill="#fff"/>
<path d="M1232,802 L1237,792 M1238,802 L1243,792" stroke="#222" stroke-width="1.3"/>
<g font-size="13" fill="#222" text-anchor="end">
 <text x="1190" y="637.5">105</text><text x="1190" y="670.3">100</text><text x="1190" y="703.1">95</text><text x="1190" y="735.9">90</text><text x="1190" y="768.7">85</text><text x="1190" y="801.5">80</text>
</g>
<g font-size="13" fill="#222" text-anchor="middle">
 <text x="1220" y="817" font-size="9">−∞</text><text x="1256" y="817">−10</text><text x="1291.4" y="817">−9</text><text x="1326.8" y="817">−8</text><text x="1362.2" y="817">−7</text><text x="1397.6" y="817">−6</text><text x="1433" y="817">−5</text>
 <text x="1323" y="843" font-size="14.5">Log[LY379 (M)]</text>
</g>
<text transform="translate(1165,710) rotate(-90)" text-anchor="middle" font-size="15" fill="#222">trFRET (%)</text>
<path d="M1228,669.1 H1237" stroke="#111" stroke-width="1.8"/>
<path d="M1228,743.9 H1238" stroke="#1f3fdd" stroke-width="1.8"/>
<path d="M1243,669.3 L1259.5,669.6 L1277.2,670.7 L1286.1,671.9 L1294.9,673.9 L1303.8,677.1 L1312.6,681.8 L1321.5,688.2 L1330.3,695.7 L1339.2,703.1 L1348,709.5 L1356.9,714.2 L1365.7,717.4 L1374.6,719.4 L1383.4,720.6 L1392.3,721.3 L1401.1,721.7 L1418.8,722 L1433,722.1" stroke="#111" stroke-width="1.6" fill="none"/>
<path d="M1243,743.9 L1280.8,744.2 L1298.5,744.9 L1307.3,745.6 L1316.2,746.9 L1325,748.9 L1333.9,751.8 L1342.7,755.7 L1351.6,760.3 L1360.4,764.9 L1369.3,768.8 L1378.1,771.7 L1387,773.7 L1395.8,775 L1404.7,775.7 L1413.5,776.1 L1422.4,776.4 L1433,776.5" stroke="#1f3fdd" stroke-width="1.8" fill="none"/>
<g stroke="#1f3fdd" stroke-width="1.5">
 <path d="M1220,738.6 V767.4 M1216.5,738.6 H1223.5 M1216.5,767.4 H1223.5"/>
 <path d="M1256,727.5 V757.7 M1252.5,727.5 H1259.5 M1252.5,757.7 H1259.5"/>
 <path d="M1291.4,722.3 V753.7 M1287.9,722.3 H1294.9 M1287.9,753.7 H1294.9"/>
 <path d="M1326.8,728.8 V759 M1323.3,728.8 H1330.3 M1323.3,759 H1330.3"/>
 <path d="M1362.2,745.2 V776.6 M1358.7,745.2 H1365.7 M1358.7,776.6 H1365.7"/>
 <path d="M1397.6,759.6 V789.8 M1394.1,759.6 H1401.1 M1394.1,789.8 H1401.1"/>
 <path d="M1433,762.9 V789.1 M1429.5,762.9 H1436.5 M1429.5,789.1 H1436.5"/>
</g>
<g fill="#1f3fdd">
 <circle cx="1220" cy="753" r="4"/><circle cx="1256" cy="742.6" r="4"/><circle cx="1291.4" cy="738" r="4"/><circle cx="1326.8" cy="743.9" r="4"/><circle cx="1362.2" cy="760.9" r="4"/><circle cx="1397.6" cy="774.7" r="4"/><circle cx="1433" cy="776" r="4"/>
</g>
<g stroke="#111" stroke-width="1.5">
 <path d="M1256,665.8 V679 M1252.5,665.8 H1259.5 M1252.5,679 H1259.5"/>
 <path d="M1291.4,663.8 V679.6 M1287.9,663.8 H1294.9 M1287.9,679.6 H1294.9"/>
 <path d="M1326.8,690.1 V701.9 M1323.3,690.1 H1330.3 M1323.3,701.9 H1330.3"/>
 <path d="M1362.2,699.9 V720.9 M1358.7,699.9 H1365.7 M1358.7,720.9 H1365.7"/>
 <path d="M1397.6,716.9 V747.1 M1394.1,716.9 H1401.1 M1394.1,747.1 H1401.1"/>
 <path d="M1433,700.6 V732 M1429.5,700.6 H1436.5 M1429.5,732 H1436.5"/>
</g>
<g fill="#111">
 <circle cx="1220" cy="665.8" r="4"/><circle cx="1256" cy="672.4" r="4"/><circle cx="1291.4" cy="671.7" r="4"/><circle cx="1326.8" cy="696" r="4"/><circle cx="1362.2" cy="710.4" r="4"/><circle cx="1397.6" cy="732" r="4"/><circle cx="1433" cy="716.3" r="4"/>
</g>
<g font-size="13" font-weight="bold" fill="#111" text-anchor="middle">
 <text x="1220" y="662.5">****</text><text x="1256" y="661.5">***</text><text x="1291.4" y="661.5">***</text><text x="1326.8" y="687.5">**</text><text x="1362.2" y="697.5">**</text><text x="1397.6" y="714.5">*</text><text x="1433" y="697.5">**</text>
</g>
<path d="M1358,642 H1371" stroke="#111" stroke-width="1.6"/>
<path d="M1358,660 H1371" stroke="#1f3fdd" stroke-width="1.6"/>
<circle cx="1364.5" cy="642" r="3.5" fill="#111"/><circle cx="1364.5" cy="660" r="3.5" fill="#1f3fdd"/>
<text x="1371" y="647" font-size="13.5" fill="#222">Vehicle</text>
<text x="1371" y="665" font-size="13.5" fill="#222">7,8 DHF (1 μM)</text>
</svg>
</body></html>
